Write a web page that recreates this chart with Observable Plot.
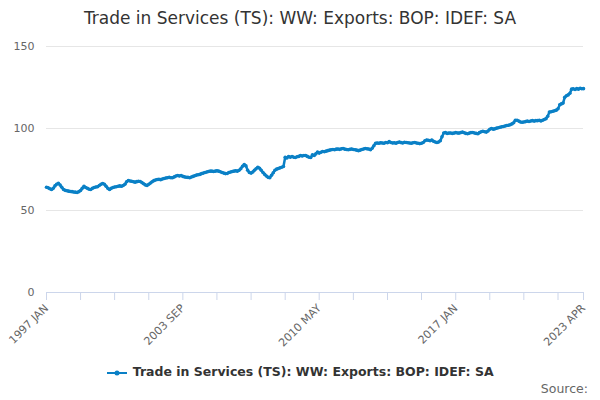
<!DOCTYPE html>
<html><head><meta charset="utf-8">
<script src="https://cdn.jsdelivr.net/npm/d3@7"></script>
<script src="https://cdn.jsdelivr.net/npm/@observablehq/plot@0.6"></script>
<style>
body{margin:0;width:600px;height:400px;font-family:"DejaVu Sans",sans-serif;background:#fff;overflow:hidden}
#title{height:36px;line-height:36px;text-align:center;font-size:17px;color:#333}
#chart{position:absolute;top:36px;left:0}
#legend{position:absolute;top:364px;left:0;width:600px;text-align:center;font-size:12.5px;font-weight:bold;color:#333}
#src{position:absolute;top:381px;right:12px;font-size:12.5px;color:#666}
</style></head><body>
<div id="title">Trade in Services (TS): WW: Exports: BOP: IDEF: SA</div>
<div id="chart"></div>
<div id="legend"><svg width="22" height="10" style="vertical-align:middle"><line x1="1" y1="5" x2="21" y2="5" stroke="#0a80c6" stroke-width="2"/><circle cx="11" cy="5" r="2.5" fill="#0a80c6"/></svg> Trade in Services (TS): WW: Exports: BOP: IDEF: SA</div>
<div id="src">Source:</div>
<script>
const startYear = 1997;
const values = [
64.2,63.8,63.3,62.8,63.5,65,66,66.6,65.5,64.2,62.8,62.3,
62,61.8,61.6,61.5,61.3,61.2,61,61.5,62.2,63.5,64.8,64,
63.5,63,62.8,63.5,64,64.3,64.5,65.2,66,66.5,66,64.8,
63.5,62.8,63.5,64,64.3,64.5,64.8,65,64.8,65.2,66,67.5,
68.3,68,67.8,67.5,67.3,67.6,67.8,67.7,67,66.3,65.6,65.2,
66,66.8,67.5,68.2,68.6,68.9,69,68.8,69.2,69.5,69.8,70,
70.2,70,70,70.5,71,71.3,71,71.3,70.8,70.5,70.3,70.2,
70,70.4,70.8,71.2,71.6,71.8,72,72.5,72.8,73.2,73.5,73.8,
74,74,73.8,74,74.2,74,73.6,73.2,72.8,72.5,72.6,73.2,
73.5,73.8,74,74.2,74,74.5,75.5,77,78,77.2,74.5,73.2,
72.8,73.5,74.5,75.5,76.4,75.8,74.5,73.2,72,71,70.2,70,
71.5,73,74.5,75.2,75.6,76,76.4,76.8,82.5,82,82.9,82.5,
82.9,82.5,82.3,82.8,83,83.5,83.2,83.5,83.5,83,82.5,82.3,
84,83.5,84.5,85.6,85,85.5,86,85.8,86.2,86.5,86.8,87,
87.2,87,87.4,87.5,87.3,87.6,87.8,87.4,87.2,87,87.3,87.5,
87.2,87,86.8,86.5,86.8,87.2,87.5,87.8,87.6,87.5,87,88,
89.5,91,91.2,91,91.3,91.2,91,91.5,91.3,92,91.5,91.2,
91.3,91,91.5,91.8,91.4,91.2,91.6,91.5,91.3,91.2,91,91.3,
91.5,91.2,91,90.8,91,91.5,92.5,93,92.8,92.5,93,92.2,
91.8,91.5,91.8,92.5,95,97.3,97.5,97,97.2,97.3,97,97.2,
97.5,97.3,97.2,97.5,97.8,97.4,97,96.8,97.2,97.5,97.6,97.3,
97,96.8,97.5,98,98.3,98,97.8,98.5,99.5,100,99.6,99.8,
100.2,100.5,100.8,101,101.2,101.5,101.8,102,102.3,102.8,103.5,105,
105,104.5,104,103.8,104,104.2,104.5,104.3,104.6,104.8,104.5,104.8,
104.8,105,104.6,105,105.5,106,107.5,110,110.2,110.5,110.8,111.2,
112,114.5,115,115.5,119,120,120.5,121.5,124,124.2,123.8,124.3,
124,124.5,124.2,124.3
];
const yTicks = [0,50,100,150];
const labelEvery = 80, tickEvery = 20;
const MON = ["JAN","FEB","MAR","APR","MAY","JUN","JUL","AUG","SEP","OCT","NOV","DEC"];
const data = values.map((v,i)=>({date:new Date(Date.UTC(startYear, i, 1)), v}));
const last = values.length - 1;
const tickIdx = d3.range(0, last - 5, tickEvery).concat([last]);
const tickDates = tickIdx.map(i=>new Date(Date.UTC(startYear,i,1)));
const labelIdx = new Set(d3.range(0, values.length, labelEvery).concat([last]));
const fmt = d => {const i=(d.getUTCFullYear()-startYear)*12+d.getUTCMonth(); return labelIdx.has(i)? d.getUTCFullYear()+" "+MON[d.getUTCMonth()] : "";};
const blue = "#0a80c6";
const chart = Plot.plot({
  width:600, height:330, marginTop:10, marginBottom:74, marginLeft:46, marginRight:17,
  style:{fontFamily:"DejaVu Sans, sans-serif", fontSize:"11px", color:"#666", overflow:"visible"},
  x:{type:"utc", domain:[data[0].date, data[last].date], label:null},
  y:{domain:[0,150], label:null},
  marks:[
    Plot.gridY(yTicks,{stroke:"#e6e6e6", strokeOpacity:1}),
    Plot.ruleY([0],{stroke:"#ccd6eb"}),
    Plot.axisX({ticks:tickDates, tickFormat:fmt, tickRotate:-45, tickSize:8, stroke:"#ccd6eb", fill:"#666", label:null}),
    Plot.axisY({ticks:yTicks, tickSize:0, tickPadding:12, fill:"#666", label:null}),
    Plot.line(data,{x:"date", y:"v", stroke:blue, strokeWidth:2.5}),
    Plot.dot(data,{x:"date", y:"v", fill:blue, r:1.8})
  ]
});
document.getElementById("chart").appendChild(chart);
</script></body></html>
